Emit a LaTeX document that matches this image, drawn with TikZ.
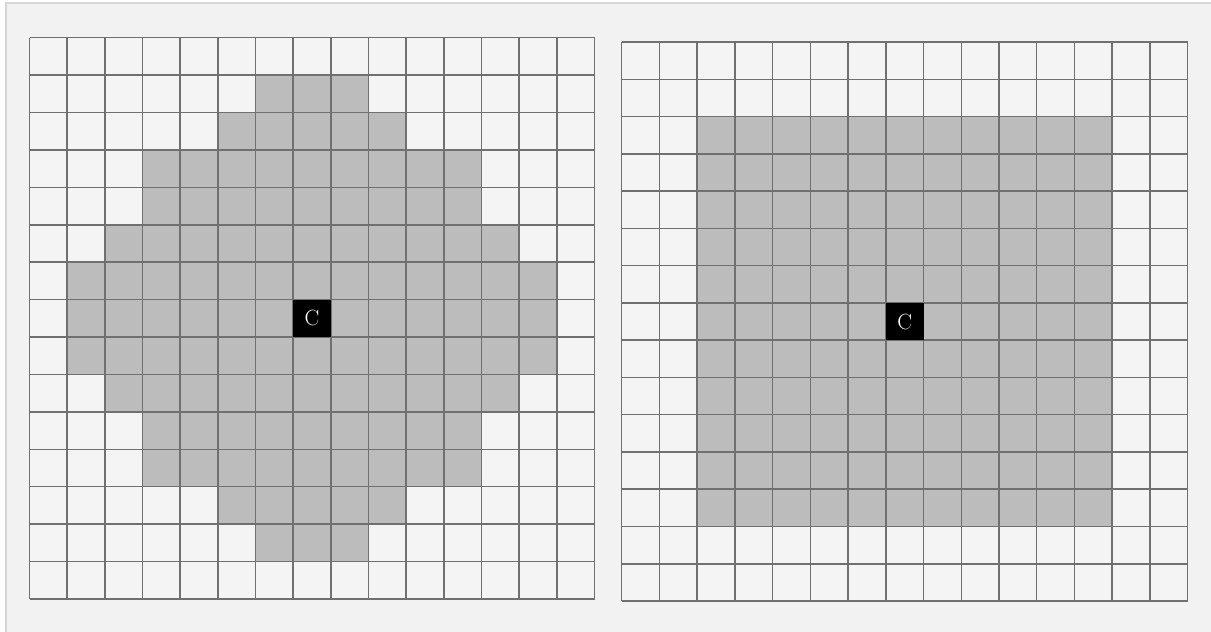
\documentclass[tikz,border=0pt]{standalone}
\usepackage{xcolor}
\definecolor{bgc}{HTML}{F2F2F2}
\definecolor{framec}{HTML}{D6D6D6}
\definecolor{cellc}{HTML}{F4F4F4}
\definecolor{shadec}{HTML}{BCBCBC}
\definecolor{linec}{HTML}{707070}
\tikzset{
  gridline/.style={draw=linec, line width=1.5pt},
  shadecell/.style={fill=shadec},
  ccell/.style={fill=black, text=white, inner sep=0pt, font=\fontsize{22}{22}\selectfont},
}
\begin{document}
\begin{tikzpicture}[x=1pt,y=-1pt]
\useasboundingbox (0,0) rectangle (1211,632);
\fill[white] (0,0) rectangle (1211,632);
\fill[bgc] (6,3) rectangle (1211,632);
\draw[framec, line width=1.2pt] (6,632) -- (6,3) -- (1211,3);
% Left grid
\begin{scope}[shift={(29.5,37.7)}, x=37.67pt, y=-37.42pt]
  \fill[cellc] (0,0) rectangle (15,15);
  \foreach \r/\a/\b in {1/6/8, 2/5/9, 3/3/11, 4/3/11, 5/2/12, 6/1/13, 7/1/13, 8/1/13, 9/2/12, 10/3/11, 11/3/11, 12/5/9, 13/6/8}
    \fill[shadecell] (\a,\r) rectangle (\b+1,\r+1);
  \foreach \i in {0,...,15} {
    \draw[gridline] (\i,0) -- (\i,15);
    \draw[gridline] (0,\i) -- (15,\i);
  }
  \node[ccell, minimum width=37.67pt, minimum height=37.42pt] (cL) at (7.5,7.5) {C};
\end{scope}
% Right grid
\begin{scope}[shift={(621.7,42)}, x=37.73pt, y=-37.27pt]
  \fill[cellc] (0,0) rectangle (15,15);
  \fill[shadecell] (2,2) rectangle (13,13);
  \foreach \i in {0,...,15} {
    \draw[gridline] (\i,0) -- (\i,15);
    \draw[gridline] (0,\i) -- (15,\i);
  }
  \node[ccell, minimum width=37.73pt, minimum height=37.27pt] (cR) at (7.5,7.5) {C};
\end{scope}
\end{tikzpicture}
\end{document}
